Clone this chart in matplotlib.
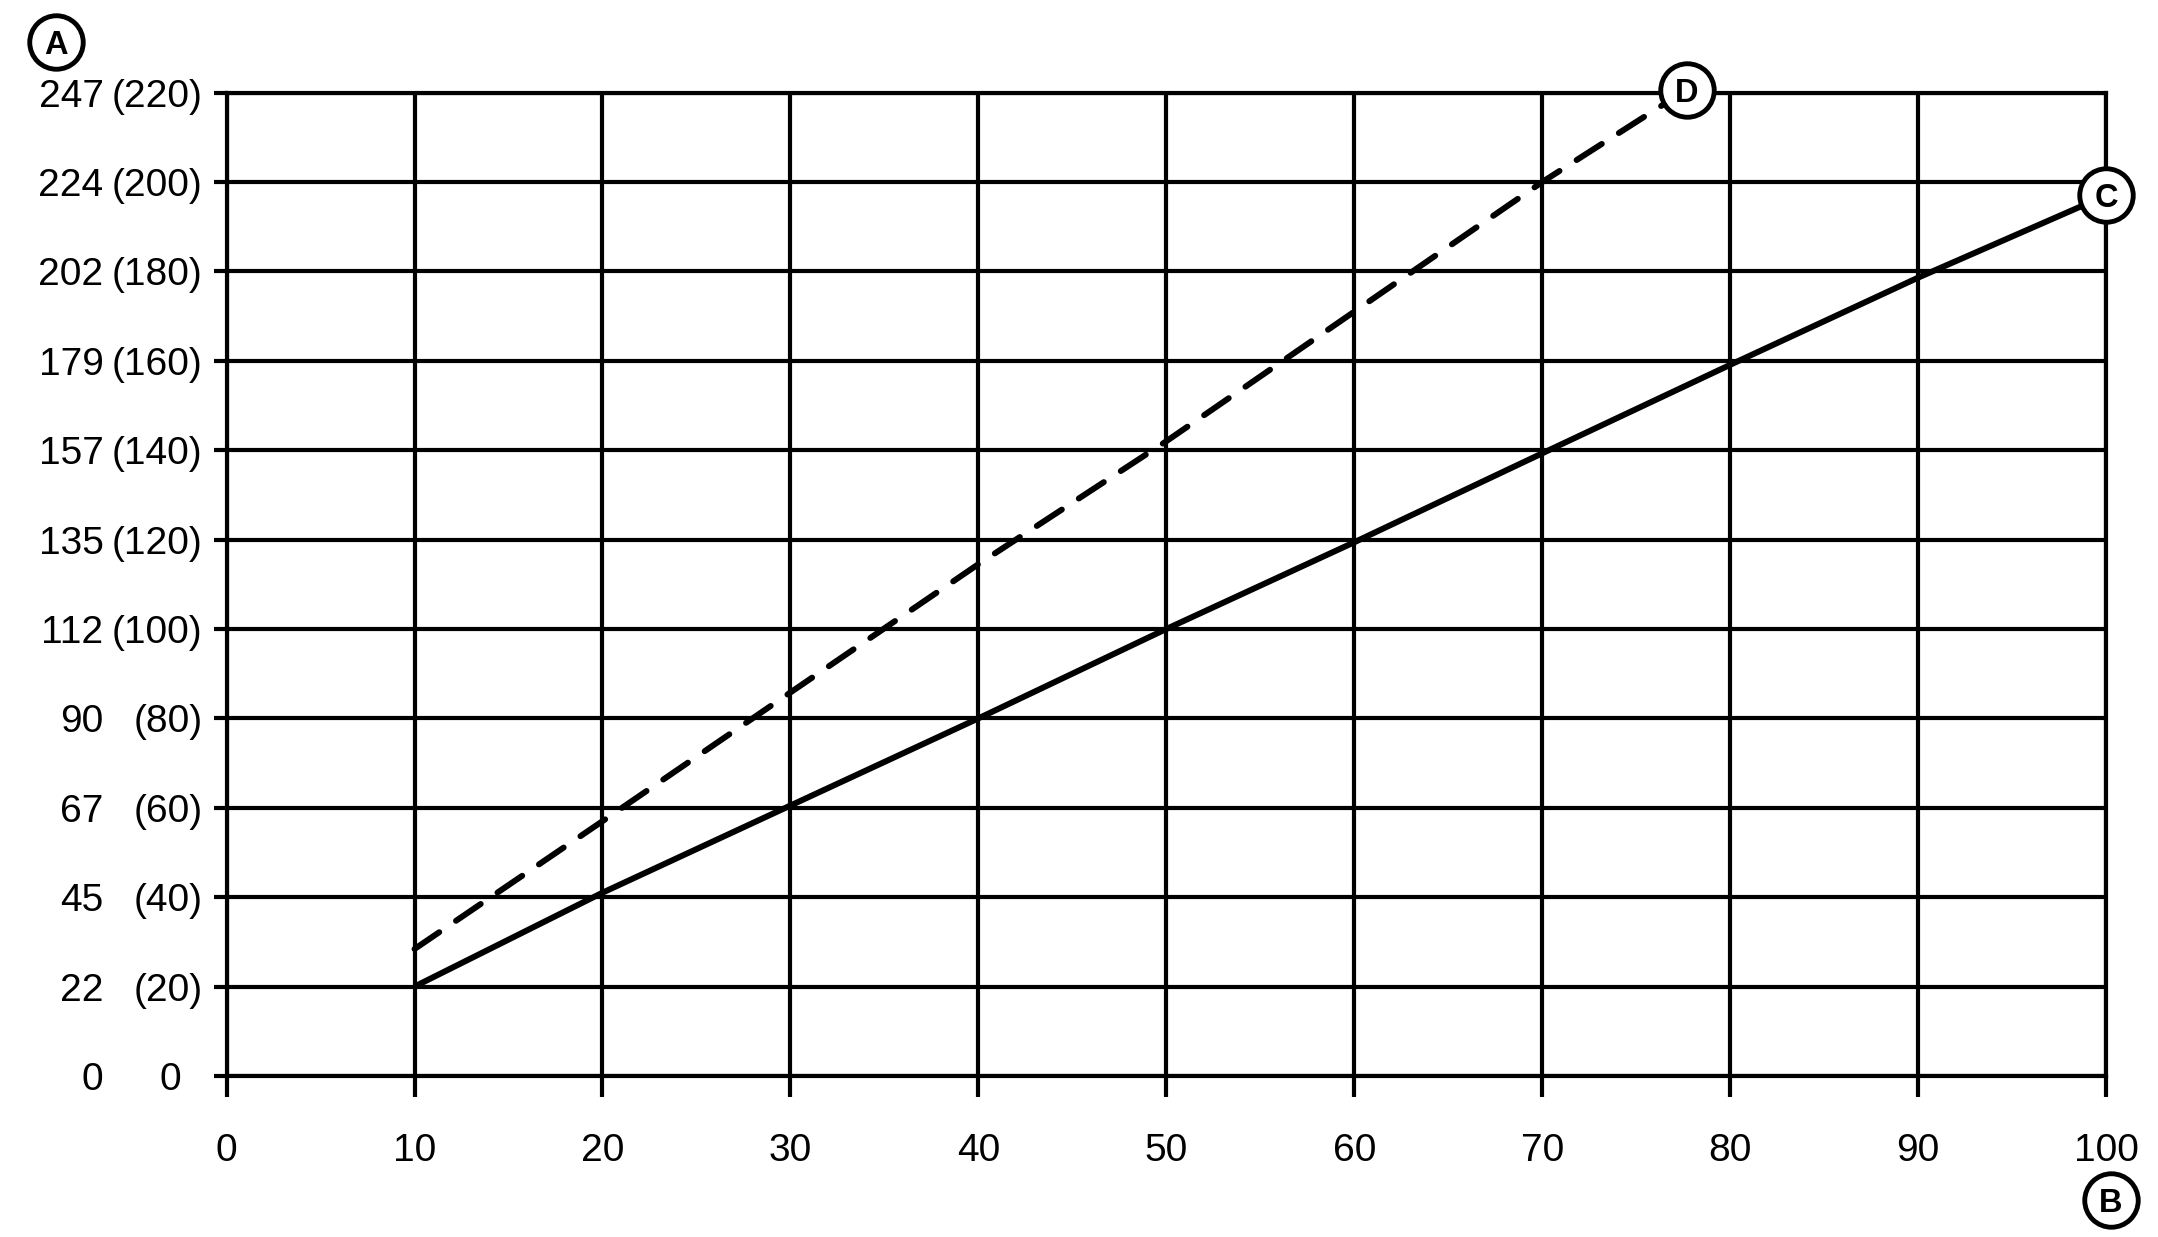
import matplotlib
matplotlib.use("Agg")
import matplotlib.pyplot as plt

plt.rcParams['font.family'] = ['Liberation Sans', 'DejaVu Sans']

# x axis (B)
x_ticks = [0, 10, 20, 30, 40, 50, 60, 70, 80, 90, 100]

# y axis (A): values in parentheses and the converted values beside them
y_ticks = [0, 20, 40, 60, 80, 100, 120, 140, 160, 180, 200, 220]
y_left = ['0', '22', '45', '67', '90', '112', '135', '157', '179', '202', '224', '247']
y_right = ['0', '(20)', '(40)', '(60)', '(80)', '(100)', '(120)', '(140)', '(160)',
           '(180)', '(200)', '(220)']

# curve C (solid)
c_x = [10, 20, 30, 40, 50, 60, 70, 80, 90, 100]
c_y = [20, 41, 60.5, 80, 100, 119.4, 139.3, 159.1, 178.6, 197]

# curve D (dashed)
d_x = [10, 20, 30, 40, 50, 60, 70, 77.7]
d_y = [28.4, 57, 85.8, 114.5, 142, 171, 200, 220.7]

fig = plt.figure(figsize=(21.58, 12.37), dpi=100)
ax = fig.add_axes([0.1050, 0.1302, 0.8709, 0.7949])

ax.set_xlim(0, 100)
ax.set_ylim(0, 220)
ax.set_xticks(x_ticks)
ax.set_yticks(y_ticks)
ax.set_xticklabels([str(v) for v in x_ticks], fontsize=28)
ax.tick_params(axis='x', direction='out', length=15, width=3, pad=26)
ax.tick_params(axis='y', direction='out', length=9.5, width=3, labelleft=False)
for s in ax.spines.values():
    s.set_linewidth(3)
ax.grid(True, color='black', linewidth=3)
ax.set_axisbelow(True)

# y labels in two columns
for v, a, b in zip(y_ticks, y_left, y_right):
    ax.annotate(a, xy=(0, v), xycoords=('axes fraction', 'data'),
                xytext=(-123, 0), textcoords='offset pixels',
                ha='right', va='center_baseline', fontsize=28)
    if b == '0':
        ax.annotate(b, xy=(0, v), xycoords=('axes fraction', 'data'),
                    xytext=(-56, 0), textcoords='offset pixels',
                    ha='center', va='center_baseline', fontsize=28)
    else:
        ax.annotate(b, xy=(0, v), xycoords=('axes fraction', 'data'),
                    xytext=(-24, 0), textcoords='offset pixels',
                    ha='right', va='center_baseline', fontsize=28)

ax.plot(c_x, c_y, color='black', lw=4.3, solid_capstyle='butt', zorder=3)
ax.plot(d_x, d_y, color='black', lw=4.3, linestyle=(0, (5, 3.4)),
        dash_capstyle='round', zorder=3)

# labelled circles at curve ends
for px, py, lab in [(c_x[-1], c_y[-1], 'C'), (d_x[-1], d_y[-1], 'D')]:
    ax.plot([px], [py], marker='o', ms=38.5, mfc='white', mec='black', mew=3.5,
            clip_on=False, zorder=5)
    ax.text(px, py, lab, ha='center', va='center_baseline', fontsize=23.5,
            fontweight='bold', zorder=6, clip_on=False)

# axis markers A and B
for fx, fy, lab in [(55.7 / 2158, 1 - 41.7 / 1237, 'A'), (2111 / 2158, 1 - 1200 / 1237, 'B')]:
    ax.plot([fx], [fy], marker='o', ms=38.5, mfc='white', mec='black', mew=3.5,
            transform=fig.transFigure, clip_on=False, zorder=5)
    ax.text(fx, fy, lab, ha='center', va='center_baseline', fontsize=23.5,
            fontweight='bold', transform=fig.transFigure, zorder=6)

fig.savefig('out.png', dpi=100)
